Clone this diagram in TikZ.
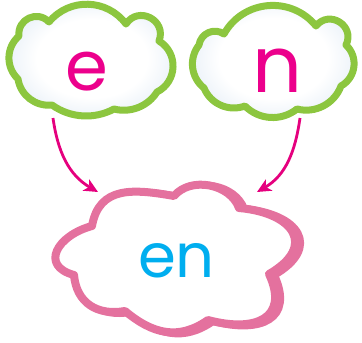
\documentclass[tikz,border=0pt]{standalone}
\usepackage{fontspec}
\setmainfont{Poppins}
\usetikzlibrary{arrows.meta}
\definecolor{cgreen}{HTML}{8CC63F}
\definecolor{cpink}{HTML}{E4719E}
\definecolor{cmag}{HTML}{EC008C}
\definecolor{amag}{HTML}{E5007E}
\definecolor{ccyan}{HTML}{00AEEF}
\definecolor{cloudblue}{HTML}{C9DBEE}
\pgfdeclareradialshading{cloudsh}{\pgfpoint{0bp}{0bp}}{color(0bp)=(white); color(16bp)=(white); color(40bp)=(cloudblue); color(50bp)=(cloudblue)}
\tikzset{
  bump/.code={\pgfmathsetmacro\bumpL{1.703/(1+cos(#1))}\edef\bumptmp{\noexpand\pgfkeysalso{bend left=#1,looseness=\bumpL}}\bumptmp},
  topcloud/.style={shading=cloudsh, draw=cgreen, line width=7pt, line join=round},
  botcloud/.style={draw=cpink, line width=8pt, line join=round},
  lett/.style={inner sep=0pt, anchor=base},
  arr/.style={draw=amag, line width=2.8pt, -{Stealth[length=14pt,width=13pt,inset=4pt]}}
}
\def\leftcloud{(18,-79) to[bump=48] (19,-36) to[bump=72] (49,-22) to[bump=52] (126,-24) to[bump=84] (159,-41) to[bump=61] (157,-92) to[bump=36] (114,-109) to[bump=32] (52,-105) to[bump=44] (18,-79) -- cycle}
\def\rightcloud{(204,-88) to[bump=45] (199,-45) to[bump=58] (224,-34) to[bump=56] (316,-26) to[bump=84] (346,-45) to[bump=54] (341,-86) to[bump=42] (297,-109) to[bump=42] (245,-106) to[bump=44] (204,-88) -- cycle}
\def\bottomcloud{(92,-226) to[out=80,in=170,looseness=1.2] (174,-196) to[out=50,in=110,looseness=1.0] (239,-208) to[out=-5,in=30,looseness=1.95] (269,-274) to[out=-65,in=-15,looseness=1.64] (208,-320) to[out=215,in=-40,looseness=1.1] (125,-311) to[out=190,in=275,looseness=1.15] (74,-275) to[out=165,in=195,looseness=1.76] (92,-226) -- cycle}
\begin{document}
\begin{tikzpicture}[x=1pt,y=1pt]
\useasboundingbox (0,0) rectangle (362,-343);
% top clouds
\shadedraw[topcloud] \leftcloud;
\shadedraw[topcloud] \rightcloud;
% bottom cloud (thicker band on the right)
\filldraw[botcloud, fill=cpink, xshift=5pt, yshift=-1pt] \bottomcloud;
\filldraw[botcloud, fill=white] \bottomcloud;
% letters
\node[lett, text=cmag, font=\fontsize{69}{69}\selectfont] (le) at (86.5,-90) {e};
\node[lett, text=cmag, font=\fontsize{78}{78}\selectfont] (ln) at (277.5,-92) {n};
\node[lett, text=ccyan, font=\fontsize{61}{61}\selectfont] (len) at (176.5,-277) {en};
% arrows
\coordinate (a1s) at (53,-118);
\coordinate (a1e) at (98,-192);
\coordinate (a2s) at (300,-118);
\coordinate (a2e) at (257,-192);
\draw[arr] (a1s) to[out=-82,in=150] (a1e);
\draw[arr] (a2s) to[out=-98,in=30] (a2e);
\end{tikzpicture}
\end{document}
